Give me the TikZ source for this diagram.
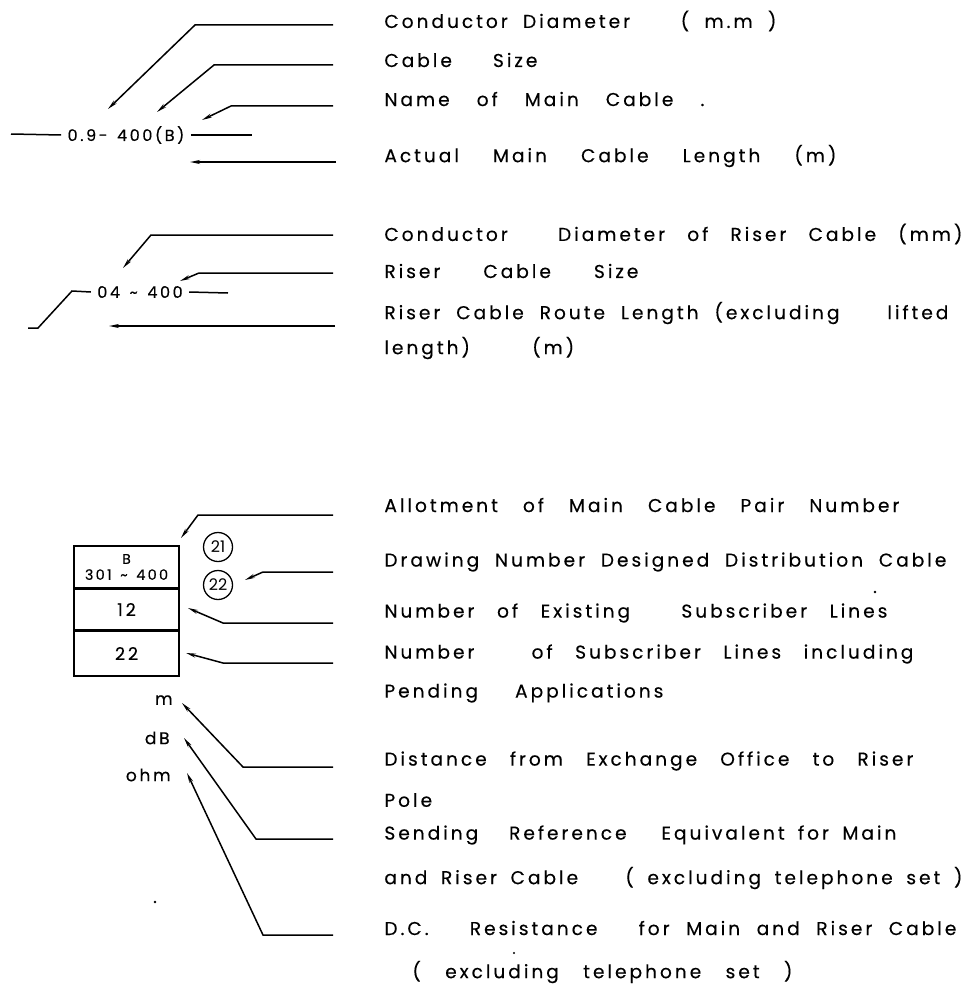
\documentclass[tikz,border=0pt]{standalone}
\usepackage{fontspec}
\setmainfont{Poppins}
\newfontfamily\Lettering[LetterSpace=16,WordSpace=1.4,FakeBold=0.3]{Poppins}
\usetikzlibrary{arrows.meta,positioning}
\tikzset{
  leader/.style={line width=0.75pt,-{Stealth[length=5pt,width=2pt]}},
  plain/.style={line width=0.75pt},
  desc/.style={anchor=west,inner sep=0pt,font=\Lettering\fontsize{9.3}{10}\selectfont},
  lbl/.style={inner sep=3pt,font=\Lettering\fontsize{8}{9}\selectfont},
  cell/.style={draw,line width=0.75pt,minimum width=52.5pt,inner sep=0pt,align=center,font=\Lettering\fontsize{8.8}{9}\selectfont},
  ring/.style={circle,draw,line width=0.65pt,minimum size=14.5pt,inner sep=0pt,font=\fontsize{8}{8}\selectfont},
  unit/.style={anchor=east,inner sep=0pt,font=\Lettering\fontsize{8.5}{9}\selectfont},
}
% leader: name, y of the run, x of the knee, tip x, tip y
\newcommand{\Lead}[5]{%
  \coordinate (#1r) at (333,#2);
  \coordinate (#1k) at (#3,#2);
  \coordinate (#1t) at (#4,#5);
  \draw[leader] (#1r) -- (#1k) -- (#1t);%
}
% spread a line of lettering to a given width
\newcommand{\Spread}[2]{\makebox[#1pt][s]{#2}}
\begin{document}
\begin{tikzpicture}[x=0.5pt,y=-0.5pt]
\useasboundingbox (0,0) rectangle (971,995);
% main cable
\node[lbl] (main) at (126,135) {0.9- 400(B)};
\coordinate (mainl) at (11,134);
\coordinate (mainr) at (252,135);
\draw[plain] (mainl) -- (main.west);
\draw[plain] (main.east) -- (mainr);
\Lead{dia}{25}{195}{108}{109}
\Lead{size}{65}{214}{157}{112}
\Lead{name}{106}{231}{202}{120}
\coordinate (lenr) at (336,162);
\coordinate (lent) at (190,162);
\draw[leader] (lenr) -- (lent);
% riser cable
\node[lbl] (riser) at (140,292) {04 \textasciitilde{} 400};
\coordinate (rs1) at (28,328);
\coordinate (rs2) at (38,328);
\coordinate (rs3) at (72,291);
\coordinate (riserr) at (228,293);
\draw[plain] (rs1) -- (rs2) -- (rs3) -- (riser.west);
\draw[plain] (riser.east) -- (riserr);
\Lead{rdia}{235}{151}{123}{268}
\Lead{rsize}{273}{199}{180}{281}
\coordinate (rlenr) at (335,326);
\coordinate (rlent) at (109,326);
\draw[leader] (rlenr) -- (rlent);
% distribution box
\node[cell,minimum height=21pt] (pairs) at (126.5,567) {\fontsize{7}{7}\selectfont B\\[-1pt]\fontsize{7.2}{7}\selectfont 301 \textasciitilde{} 400};
\node[cell,minimum height=20pt,below=0pt of pairs] (exist) {12};
\node[cell,minimum height=22.5pt,below=0pt of exist] (pend) {22};
\node[ring] (c21) at (218,547) {21};
\node[ring] (c22) at (218,585) {22};
\node[unit] (um) at (173,700) {m};
\node[unit] (udb) at (170,738) {dB};
\node[unit] (uohm) at (171,775) {ohm};
\Lead{allot}{515}{198}{181}{538}
\Lead{dwg}{572}{263}{245}{580}
\Lead{exl}{623}{223}{188}{608}
\Lead{inc}{663}{223}{186}{653}
\Lead{dist}{767}{243}{182}{703}
\Lead{send}{839}{256}{184}{738}
\Lead{res}{935}{263}{187}{773}
% descriptions
\node[desc] (d1) at (384,21) {\Spread{196}{Conductor Diameter \hspace{10pt} ( m.m )}};
\node[desc] (d2) at (384,60) {\Spread{76.5}{Cable Size}};
\node[desc] (d3) at (384,99) {\Spread{160}{Name of Main Cable .}};
\node[desc] (d4) at (384,156) {\Spread{226}{Actual Main Cable Length (m)}};
\node[desc] (d5) at (384,234) {\Spread{289}{Conductor \hspace{3pt} Diameter of Riser Cable (mm)}};
\node[desc] (d6) at (384,271) {\Spread{127}{Riser Cable Size}};
\node[desc] (d7) at (384,313) {\Spread{282}{Riser Cable Route Length (excluding \hspace{8pt} lifted}};
\node[desc] (d8) at (384,348) {length) \hspace{20pt} (m)};
\node[desc] (d9) at (384,505) {\Spread{257.5}{Allotment of Main Cable Pair Number}};
\node[desc] (d10) at (384,562) {\Spread{281}{Drawing Number Designed Distribution Cable}};
\node[desc] (d11) at (384,613) {\Spread{251.5}{Number of Existing \hspace{3pt} Subscriber Lines}};
\node[desc] (d12) at (384,654) {\Spread{264.5}{Number \hspace{6pt} of Subscriber Lines including}};
\node[desc] (d13) at (384,693) {\Spread{139.5}{Pending Applications}};
\node[desc] (d14) at (384,761) {\Spread{264.5}{Distance from Exchange Office to Riser}};
\node[desc] (d15) at (384,800) {Pole};
\node[desc] (d16) at (384,835) {\Spread{256}{Sending \hspace{2pt} Reference \hspace{4pt} Equivalent for Main}};
\node[desc] (d17) at (384,878) {\Spread{289}{and Riser Cable \hspace{10pt} ( excluding telephone set )}};
\node[desc] (d18) at (384,928) {\Spread{286}{D.C. \hspace{4pt} Resistance \hspace{4pt} for Main and Riser Cable}};
\node[desc] (d19) at (412,972) {\Spread{190}{( excluding telephone set )}};
% specks
\fill (155,902) circle (0.7pt);
\fill (514,953) circle (0.6pt);
\fill (875,592) circle (0.7pt);
\end{tikzpicture}
\end{document}
